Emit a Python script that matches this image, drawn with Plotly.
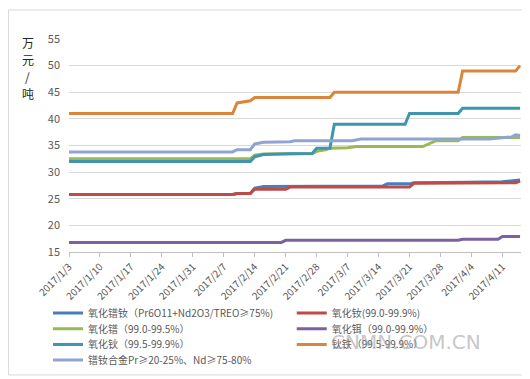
import datetime as dt
import plotly.graph_objects as go

BASE = dt.date(2017, 1, 3)

def days(lst):
    return [(BASE + dt.timedelta(days=d)).isoformat() for d in lst]

# series: day offsets from 2017-01-03 and values (万元/吨)
prnd_oxide_days = [0, 37, 38, 41, 42, 44, 71, 72, 77, 78, 90, 98, 102]
prnd_oxide_vals = [25.8, 25.8, 26.0, 26.0, 27.0, 27.3, 27.4, 27.8, 27.8, 28.0, 28.1, 28.2, 28.5]

nd_oxide_days = [0, 37, 38, 41, 42, 49, 50, 77, 78, 99, 101, 102]
nd_oxide_vals = [25.8, 25.8, 26.0, 26.0, 26.8, 26.8, 27.2, 27.2, 27.9, 27.9, 28.0, 28.3]

pr_oxide_days = [0, 41, 42, 44, 55, 56, 58, 59, 63, 65, 80, 83, 88, 89, 102]
pr_oxide_vals = [32.5, 32.5, 33.2, 33.4, 33.5, 33.9, 34.2, 34.5, 34.6, 34.8, 34.8, 35.9, 35.9, 36.5, 36.5]

er_oxide_days = [0, 48, 49, 88, 89, 97, 98, 102]
er_oxide_vals = [16.8, 16.8, 17.2, 17.2, 17.4, 17.4, 17.9, 17.9]

ho_oxide_days = [0, 41, 42, 44, 50, 55, 56, 59, 60, 76, 77, 88, 89, 102]
ho_oxide_vals = [32.0, 32.0, 32.9, 33.3, 33.45, 33.5, 34.5, 34.5, 39.0, 39.0, 41.0, 41.0, 42.0, 42.0]

hofe_days = [0, 37, 38, 41, 42, 59, 60, 88, 89, 101, 102]
hofe_vals = [41.0, 41.0, 43.0, 43.4, 44.0, 44.0, 45.0, 45.0, 49.0, 49.0, 50.0]

prnd_alloy_days = [0, 37, 38, 41, 42, 44, 50, 51, 64, 66, 95, 100, 101, 102]
prnd_alloy_vals = [33.8, 33.8, 34.2, 34.2, 35.3, 35.6, 35.7, 35.9, 35.9, 36.2, 36.2, 36.6, 37.0, 36.9]

names = [
    "氧化镨钕（Pr6O11+Nd2O3/TREO≥75%)",
    "氧化钕(99.0-99.9%)",
    "氧化镨（99.0-99.5%）",
    "氧化铒（99.0-99.9%）",
    "氧化钬（99.5-99.9%）",
    "钬铁（99.5-99.9%）",
    "镨钕合金Pr≥20-25%、Nd≥75-80%",
]
series_days = [prnd_oxide_days, nd_oxide_days, pr_oxide_days, er_oxide_days,
               ho_oxide_days, hofe_days, prnd_alloy_days]
series_vals = [prnd_oxide_vals, nd_oxide_vals, pr_oxide_vals, er_oxide_vals,
               ho_oxide_vals, hofe_vals, prnd_alloy_vals]
colors = ["#4A7EBB", "#BE4B48", "#98B954", "#7D60A0", "#3F94AE", "#DA853C", "#90A4D2"]

tick_days = list(range(0, 99, 7))
tick_vals = days(tick_days)
tick_text = []
for d in tick_days:
    t = BASE + dt.timedelta(days=d)
    tick_text.append(f"{t.year}/{t.month}/{t.day}")

FONT = "Noto Sans CJK SC"

W, H = 530, 379
L, R, T, B = 61, 513.5, 30.5, 250.5
pw, ph = R - L, B - T

def px(x):
    return (x - L) / pw

def py(y):
    return (B - y) / ph

# legend placement (two columns, row-major like the original)
legend_cols = [54, 298]
legend_rows = [313.5, 329.8, 346, 362]

fig = go.Figure()
legend_layouts = {}
for i, (n, d, v, c) in enumerate(zip(names, series_days, series_vals, colors)):
    key = "legend" if i == 0 else f"legend{i + 1}"
    fig.add_trace(go.Scatter(x=days(d), y=v, mode="lines", name=n, legend=key,
                             line=dict(color=c, width=3)))
    col = legend_cols[i % 2]
    row = legend_rows[i // 2]
    legend_layouts[key] = dict(
        x=px(col - 14), y=py(row), xanchor="left", yanchor="middle",
        bgcolor="rgba(0,0,0,0)", borderwidth=0, itemwidth=30,
        font=dict(size=10, color="#595959", family=FONT))

fig.update_layout(
    width=W, height=H,
    margin=dict(l=L, r=W - R, t=T, b=H - B),
    paper_bgcolor="white", plot_bgcolor="white",
    font=dict(family=FONT, color="#595959", size=10),
    showlegend=True,
    xaxis=dict(type="date", range=[days([0])[0], "2017-04-15 05:00"],
               tickmode="array", tickvals=tick_vals, ticktext=tick_text,
               tickangle=-45, tickfont=dict(size=10, color="#595959"),
               showgrid=False, showline=True, linecolor="#BFBFBF", linewidth=1,
               ticks="outside", ticklen=4, tickcolor="#BFBFBF", zeroline=False),
    yaxis=dict(range=[15, 55], tickmode="array", tickvals=[15, 20, 25, 30, 35, 40, 45, 50, 55],
               showgrid=True, gridcolor="#D9D9D9", gridwidth=1, zeroline=False,
               showline=False, ticks="", tickfont=dict(size=11, color="#595959"),
               ticklabelstandoff=8),
    **legend_layouts,
)

for ch, yy in zip(["万", "元", "/", "吨"], [34, 51.5, 69, 86.5]):
    fig.add_annotation(text=ch, xref="paper", yref="paper", x=px(19.5), y=py(yy),
                       xanchor="center", yanchor="middle", showarrow=False,
                       font=dict(size=12, color="#262626", family=FONT))

fig.add_annotation(text="CNMN.COM.CN", xref="paper", yref="paper",
                   x=px(398), y=py(343), xanchor="center", yanchor="middle",
                   showarrow=False, opacity=0.55,
                   font=dict(size=20, color="#9A9A9A", family="DejaVu Sans"))

fig.add_shape(type="rect", xref="paper", yref="paper",
              x0=px(0.5), x1=px(528), y0=py(0.5), y1=py(377.5),
              line=dict(color="#D9D9D9", width=1), layer="below")

fig.write_html("out.html")
